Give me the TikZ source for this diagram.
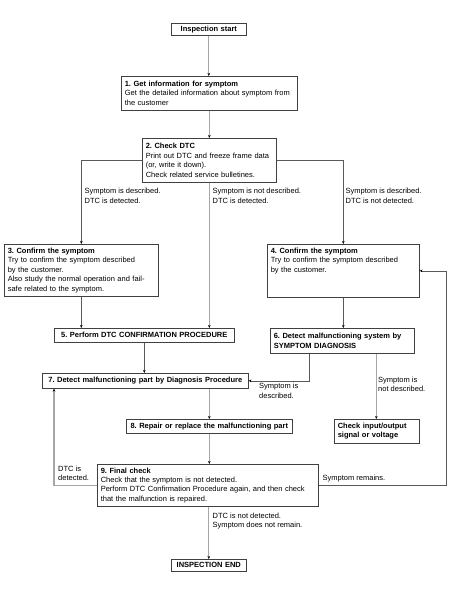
\documentclass[tikz,border=0pt]{standalone}
\usepackage{fontspec}
\setmainfont{Liberation Sans}
\usetikzlibrary{arrows.meta}
\frenchspacing
\begin{document}
\begin{tikzpicture}[x=1pt,y=-1pt,
  every node/.style={font=\fontsize{7.5}{9.4}\selectfont},
  box/.style={draw=black!75, line width=0.6pt, anchor=north west, inner xsep=3.5pt, inner ysep=0pt, align=left},
  cbox/.style={box, align=center, font=\fontsize{7.5}{9.4}\selectfont\bfseries},
  lbl/.style={anchor=north west, inner sep=0pt, align=left},
  link/.style={draw=black!65, line width=0.6pt},
  spine/.style={draw=black!35, line width=1.3pt},
  arr/.style={-{Stealth[length=3pt,width=2.6pt,black]}}
]
\useasboundingbox (0,0) rectangle (473,589);

% boxes
\node[cbox, text width=68pt, minimum height=12pt] (start) at (171,23) {Inspection start};
\node[box, text width=169pt, minimum height=34pt] (b1) at (121,76)
  {\textbf{1. Get information for symptom}\\Get the detailed information about symptom from\\the customer};
\node[box, text width=127pt, minimum height=44pt] (b2) at (142,138)
  {\textbf{2. Check DTC}\\Print out DTC and freeze frame data\\(or, write it down).\\Check related service bulletines.};
\node[box, text width=147pt, minimum height=52pt] (b3) at (4,244)
  {\textbf{3. Confirm the symptom}\\Try to confirm the symptom described\\by the customer.\\Also study the normal operation and fail-\\safe related to the symptom.};
\node[box, text width=145pt, minimum height=53pt] (b4) at (267,244)
  {\textbf{4. Confirm the symptom}\\Try to confirm the symptom described\\by the customer.\\\strut\\\strut};
\node[cbox, text width=173pt, minimum height=14pt] (b5) at (54,328) {5. Perform DTC CONFIRMATION PROCEDURE};
\node[box, text width=137pt, minimum height=25pt, font=\fontsize{7.5}{9.4}\selectfont\bfseries] (b6) at (270,328)
  {6. Detect malfunctioning system by\\SYMPTOM DIAGNOSIS};
\node[cbox, text width=199pt, minimum height=15pt] (b7) at (42,373) {7. Detect malfunctioning part by Diagnosis Procedure};
\node[cbox, text width=159pt, minimum height=14pt] (b8) at (126,419) {8. Repair or replace the malfunctioning part};
\node[box, text width=78pt, minimum height=24pt, font=\fontsize{7.5}{9.4}\selectfont\bfseries] (chk) at (334,419)
  {Check input/output\\signal or voltage};
\node[box, text width=214pt, minimum height=42pt] (b9) at (97,464)
  {\textbf{9. Final check}\\Check that the symptom is not detected.\\Perform DTC Confirmation Procedure again, and then check\\that the malfunction is repaired.};
\node[cbox, text width=68pt, minimum height=12pt] (end) at (171,559) {INSPECTION END};

% labels
\node[lbl] (l1) at (84.5,188) {Symptom is described.\\DTC is detected.};
\node[lbl] (l2) at (212.5,188) {Symptom is not described.\\DTC is detected.};
\node[lbl] (l3) at (345.5,188) {Symptom is described.\\DTC is not detected.};
\node[lbl] (l4) at (259,383) {Symptom is\\described.};
\node[lbl] (l5) at (378,376.5) {Symptom is\\not described.};
\node[lbl] (l6) at (58,465.5) {DTC is\\detected.};
\node[lbl] (l7) at (322.5,474.5) {Symptom remains.};
\node[lbl] (l8) at (212.5,512.5) {DTC is not detected.\\Symptom does not remain.};

% helper coordinates
\coordinate (rl) at (446,0);
\coordinate (ll) at (54,0);

% connectors
\draw[spine, arr] (start.south) -- (start.south |- b1.north);
\draw[spine, arr] (b1.south) -- (b1.south |- b2.north);
\draw[link, arr] (b2.west) -| (b3.north);
\draw[link, arr] (b2.east) -| (b4.north);
\draw[spine, arr] (b2.south) -- (b2.south |- b5.north);
\draw[link, arr] (b3.south) -- (b3.south |- b5.north);
\draw[link, arr] (b4.south) -- (b4.south |- b6.north);
\draw[link, arr] (b5.south) -- (b5.south |- b7.north);
\draw[link, arr] ([xshift=-33pt]b6.south) |- (b7.east);
\draw[spine, arr] ([xshift=34pt]b6.south) -- ([xshift=34pt]b6.south |- chk.north);
\draw[spine, arr] (b8.north |- b7.south) -- (b8.north);
\draw[spine, arr] (b8.south) -- (b8.south |- b9.north);
\draw[spine, arr] (b9.west) -| (ll |- b7.south);
\draw[link, arr] (b9.east) -| (rl |- b4.east) -- (b4.east);
\draw[spine, arr] (end.north |- b9.south) -- (end.north);
\end{tikzpicture}
\end{document}
